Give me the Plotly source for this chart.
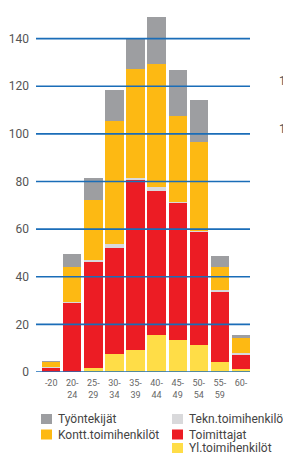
import plotly.graph_objects as go

categories = ["-20", "20-24", "25-29", "30-34", "35-39", "40-44", "45-49", "50-54", "55-59", "60-"]
tick_labels = ["-20", "20-<br>24", "25-<br>29", "30-<br>34", "35-<br>39", "40-<br>44", "45-<br>49", "50-<br>54", "55-<br>59", "60-"]

yl_toimihenkilot = [0, 0, 1.5, 7.7, 9.3, 15.4, 13.5, 11.5, 4.3, 1.3]
toimittajat = [1.7, 29.1, 45.1, 44.3, 71.7, 60.4, 57.6, 47.3, 29.7, 6.2]
tekn_toimihenkilot = [0.2, 0.3, 0.5, 1.7, 0.3, 1.9, 0.3, 0.3, 0.3, 0.4]
kontt_toimihenkilot = [2.5, 14.6, 25.1, 51.5, 46.0, 51.8, 36.0, 37.4, 9.6, 6.2]
tyontekijat = [0.2, 5.5, 9.4, 13.4, 12.5, 19.5, 19.2, 17.9, 4.9, 1.3]

y_ticks = [0, 20, 40, 60, 80, 100, 120, 140]

series = [
    ("Yl.toimihenkilöt", yl_toimihenkilot, "#ffdd47"),
    ("Toimittajat", toimittajat, "#ec1c24"),
    ("Tekn.toimihenkilöt", tekn_toimihenkilot, "#d9d9db"),
    ("Kontt.toimihenkilöt", kontt_toimihenkilot, "#fdb913"),
    ("Työntekijät", tyontekijat, "#9d9ea1"),
]

W, H = 283, 453
ML, MR, MT, MB = 36, 33, 10, 81
PW, PH = W - ML - MR, H - MT - MB

def px_x(p):
    return (p - ML) / PW

def px_y(p):
    return (H - MB - p) / PH

FONT = "Roboto, Liberation Sans, sans-serif"

fig = go.Figure()
for name, vals, col in series:
    fig.add_trace(go.Bar(x=categories, y=vals, name=name, marker=dict(color=col, line=dict(width=0)),
                         showlegend=False))

shapes = []
for t in y_ticks:
    shapes.append(dict(type="line", xref="paper", yref="y", x0=0, x1=1, y0=t, y1=t,
                       line=dict(color="#1a6db8", width=1.6), layer="above"))

# manual legend
legend_items = [
    ("Työntekijät", "#9d9ea1", 41, 419),
    ("Kontt.toimihenkilöt", "#fdb913", 41, 434.5),
    ("Tekn.toimihenkilöt", "#d9d9db", 172, 419),
    ("Toimittajat", "#ec1c24", 172, 434.5),
    ("Yl.toimihenkilöt", "#ffdd47", 172, 448),
]
annotations = []
for text, col, x0, yc in legend_items:
    shapes.append(dict(type="rect", xref="paper", yref="paper",
                       x0=px_x(x0), x1=px_x(x0 + 11), y0=px_y(yc - 5), y1=px_y(yc + 5),
                       fillcolor=col, line=dict(width=0)))
    annotations.append(dict(text=text, xref="paper", yref="paper", x=px_x(x0 + 15), y=px_y(yc),
                            xanchor="left", yanchor="middle", showarrow=False,
                            font=dict(family=FONT, size=12, color="#444444")))

for yc in [81, 128.5]:
    annotations.append(dict(text="1", xref="paper", yref="paper", x=px_x(277), y=px_y(yc),
                            xanchor="left", yanchor="middle", showarrow=False,
                            font=dict(family=FONT, size=12, color="#555555")))

fig.update_layout(
    width=W, height=H,
    margin=dict(l=ML, r=MR, t=MT, b=MB, autoexpand=False),
    barmode="stack",
    bargap=0.13,
    plot_bgcolor="white",
    paper_bgcolor="white",
    shapes=shapes,
    annotations=annotations,
    font=dict(family=FONT, color="#555555"),
)
fig.update_xaxes(range=[-0.72, 9.43], tickmode="array", tickvals=categories, ticktext=tick_labels,
                 tickfont=dict(family=FONT, size=9, color="#666666"), showgrid=False,
                 showline=False, zeroline=False, ticks="", automargin=False, ticklabelstandoff=4)
fig.update_yaxes(range=[0, 152], tickvals=y_ticks, showgrid=False, zeroline=False, automargin=False,
                 tickfont=dict(family=FONT, size=12, color="#555555"), ticklabelstandoff=6)

fig.write_html("out.html", config={"displayModeBar": False},
               post_script="document.body.style.margin='0';document.body.style.overflow='hidden';")
